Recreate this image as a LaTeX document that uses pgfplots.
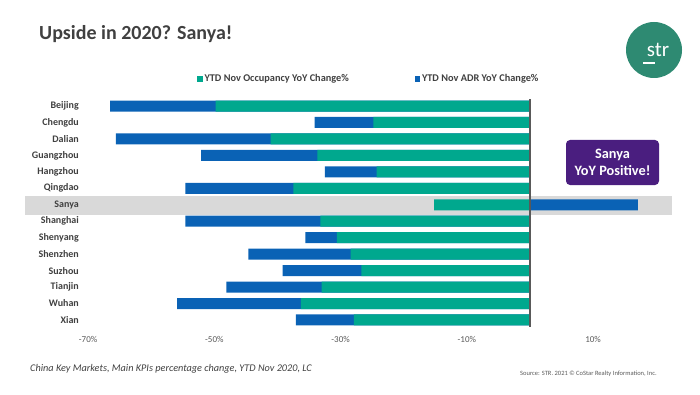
\documentclass[border=0pt]{standalone}
\usepackage{pgfplots}
\pgfplotsset{compat=1.18}
\usepackage{fontspec}
\setmainfont{Carlito}
\definecolor{occ}{HTML}{00A88E}
\definecolor{adr}{HTML}{0A62B5}
\definecolor{txt}{HTML}{404040}
\definecolor{tick}{HTML}{595959}
\definecolor{band}{HTML}{D9D9D9}
\definecolor{strgreen}{HTML}{2E8A72}
\definecolor{purp}{HTML}{4A1E7F}
% y index: 13 = Beijing (top) ... 0 = Xian (bottom)
% occupancy YoY change (%)
\pgfplotstableread{
y occ
13 -49.8
12 -24.8
11 -41.1
10 -33.7
9 -24.3
8 -37.5
7 -15.2
6 -33.2
5 -30.6
4 -28.4
3 -26.7
2 -33.0
1 -36.3
0 -27.9
}\occtable
% end of ADR segment (occupancy + ADR for negative markets; ADR for Sanya)
\pgfplotstableread{
y adrend
13 -66.5
12 -34.1
11 -65.6
10 -52.1
9 -32.5
8 -54.6
7 17.1
6 -54.6
5 -35.6
4 -44.6
3 -39.2
2 -48.1
1 -55.9
0 -37.1
}\adrtable
\begin{document}
\begin{tikzpicture}
\useasboundingbox (0pt,0pt) rectangle (700pt,394pt);
% title
\node[anchor=base west, inner sep=0pt, text=txt, font=\bfseries\fontsize{20}{24}\selectfont] at (39pt,354pt) {Upside in 2020? Sanya!};
% logo
\fill[strgreen] (654pt,344pt) circle (28pt);
\node[anchor=base, inner sep=0pt, text=white, font=\fontsize{21}{24}\selectfont] at (658pt,337pt) {str};
\draw[white, line width=1.6pt] (643pt,331pt) -- (655pt,331pt);
% Sanya highlight band (behind the axis)
\fill[band] (25pt,179pt) rectangle (672pt,198pt);
\begin{axis}[
  at={(25pt,65.8pt)}, anchor=south west,
  scale only axis, width=647pt, height=230.4pt,
  xmin=-80, xmax=22.5, ymin=-0.5, ymax=13.5,
  axis line style={draw=none}, major tick length=0pt,
  xtick={-70,-50,-30,-10,10},
  xticklabels={-70\%,-50\%,-30\%,-10\%,10\%},
  xticklabel style={text=tick, font=\fontsize{9}{10}\selectfont, inner sep=0pt, yshift=-8pt},
  ytick={0,...,13},
  yticklabels={Xian,Wuhan,Tianjin,Suzhou,Shenzhen,Shenyang,Shanghai,Sanya,Qingdao,Hangzhou,Guangzhou,Dalian,Chengdu,Beijing},
  yticklabel style={text=txt, font=\bfseries\fontsize{10}{12}\selectfont, inner sep=0pt, anchor=east, xshift=54pt},
  legend columns=2,
  legend style={at={(0.266,1.082)}, anchor=west, draw=none, fill=none, inner sep=0pt,
    font=\bfseries\fontsize{10.3}{12}\selectfont, text=txt,
    /tikz/every even column/.append style={column sep=64pt}},
  legend image code/.code={\fill[#1,draw=none] (0pt,-2.6pt) rectangle (5.2pt,2.6pt);},
  legend cell align=left,
  clip=false,
]
\addlegendimage{fill=occ,draw=none}
\addlegendentry{YTD Nov Occupancy YoY Change\%}
\addlegendimage{fill=adr,draw=none}
\addlegendentry{YTD Nov ADR YoY Change\%}
\addplot[xbar, bar width=11pt, bar shift=0pt, draw=none, fill=adr, forget plot] table[x=adrend, y=y] {\adrtable};
\addplot[xbar, bar width=11pt, bar shift=0pt, draw=none, fill=occ, forget plot] table[x=occ, y=y] {\occtable};
\draw[color=tick, line width=1.1pt] (axis cs:0,-0.4) -- (axis cs:0,13.4);
\end{axis}
% callout
\node[fill=purp, rounded corners=4pt, minimum width=93pt, minimum height=45pt, text=white,
  font=\bfseries\fontsize{14.3}{17}\selectfont, align=center, inner sep=0pt] at (612.5pt,231.5pt) {Sanya\\YoY Positive!};
% footer
\node[anchor=base west, inner sep=0pt, text=txt, font=\itshape\fontsize{10.25}{12}\selectfont] at (30pt,23pt) {China Key Markets, Main KPIs percentage change, YTD Nov 2020, LC};
\node[anchor=base west, inner sep=0pt, text=tick, font=\fontsize{6.5}{7.5}\selectfont] at (520pt,19pt) {Source: STR. 2021 \textcopyright{} CoStar Realty Information, Inc.};
\end{tikzpicture}
\end{document}
